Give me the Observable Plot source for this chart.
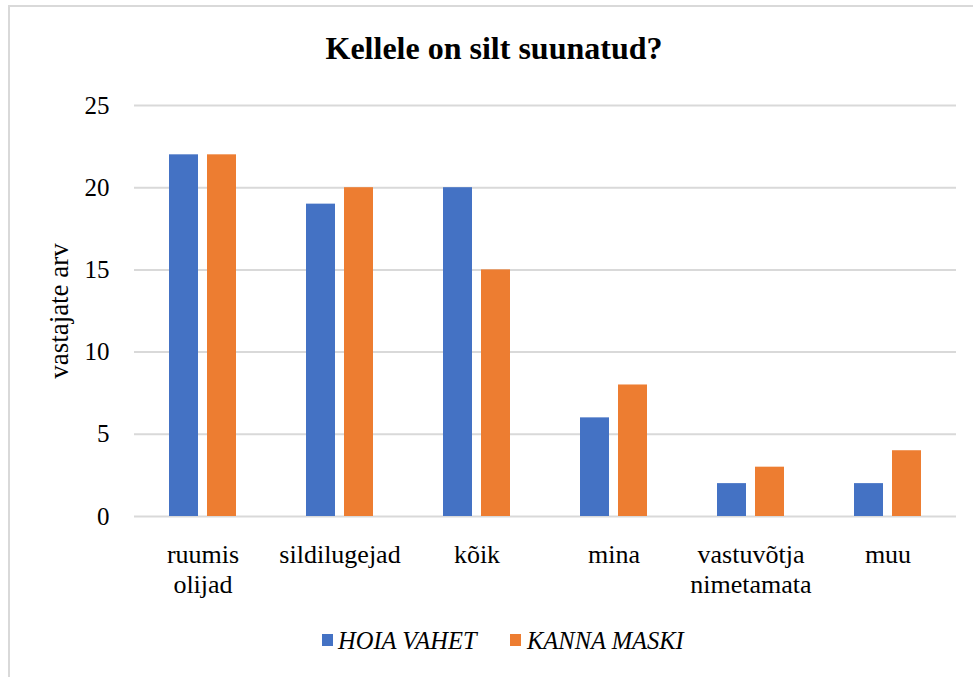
<!DOCTYPE html>
<html>
<head>
<meta charset="utf-8">
<script src="https://cdn.jsdelivr.net/npm/d3@7"></script>
<script src="https://cdn.jsdelivr.net/npm/@observablehq/plot@0.6"></script>
<style>
  html, body { margin: 0; padding: 0; background: #fff; }
  #wrap { position: relative; width: 973px; height: 677px; overflow: hidden; background: #fff;
          font-family: "Liberation Serif", "Times New Roman", Tinos, "DejaVu Serif", serif; color: #000; }
  #frame { position: absolute; left: 8px; top: 5px; width: 980px; height: 700px;
           border-top: 2px solid #d9d9d9; border-left: 2px solid #d9d9d9; }
  #title { position: absolute; left: 0; width: 988px; top: 30px; text-align: center;
           font-size: 32px; font-weight: bold; line-height: 36px; }
  #ylabel { position: absolute; left: 59px; top: 311px; font-size: 27px; white-space: nowrap;
            transform: translate(-50%, -50%) rotate(-90deg); line-height: 30px; }
  #chart { position: absolute; left: 0; top: 0; }
  #chart svg, #chart svg text { font-family: "Liberation Serif", "Times New Roman", Tinos, "DejaVu Serif", serif !important; }
  .leg { position: absolute; top: 628px; font-size: 24.5px; font-style: italic; line-height: 26px; white-space: nowrap; }
  .sw { position: absolute; width: 11px; height: 12px; top: 634px; }
</style>
</head>
<body>
<div id="wrap">
  <div id="frame"></div>
  <div id="chart"></div>
  <div id="title"></div>
  <div id="ylabel"></div>
  <div id="legend"></div>
</div>
<script>
const title = "Kellele on silt suunatud?";
const yLabel = "vastajate arv";
const categories = ["ruumis\nolijad", "sildilugejad", "kõik", "mina", "vastuvõtja\nnimetamata", "muu"];
const series = ["HOIA VAHET", "KANNA MASKI"];
const hoiaVahet = [22, 19, 20, 6, 2, 2];
const kannaMaski = [22, 20, 15, 8, 3, 4];
const yTicks = [0, 5, 10, 15, 20, 25];
const colors = ["#4472C4", "#ED7D31"];

const data = [];
categories.forEach((c, i) => {
  data.push({cat: c, series: series[0], value: hoiaVahet[i]});
  data.push({cat: c, series: series[1], value: kannaMaski[i]});
});

const serif = '"Liberation Serif", "Times New Roman", Tinos, "DejaVu Serif", serif';

const chart = Plot.plot({
  width: 973,
  height: 620,
  marginTop: 105,
  marginBottom: 104,
  marginLeft: 133,
  marginRight: 16,
  style: {fontFamily: serif, color: "#000", background: "transparent"},
  fx: {domain: categories, padding: 0, label: null},
  x: {domain: series, paddingInner: 0.231, paddingOuter: 0.876, axis: null},
  y: {domain: [0, 25], ticks: yTicks, label: null},
  color: {domain: series, range: colors},
  marks: [
    Plot.gridY(yTicks, {stroke: "#d9d9d9", strokeOpacity: 1, strokeWidth: 2, facet: false}),
    Plot.axisY(yTicks, {tickSize: 0, tickPadding: 25, fontSize: 25, fontFamily: serif, label: null, anchor: "left"}),
    Plot.axisFx({tickSize: 0, tickPadding: 25, fontSize: 26, fontFamily: serif, lineHeight: 1.15, label: null, anchor: "bottom"}),
    Plot.barY(data, {fx: "cat", x: "series", y: "value", fill: "series"})
  ]
});
document.getElementById("chart").appendChild(chart);

document.getElementById("title").textContent = title;
document.getElementById("ylabel").textContent = yLabel;

const legendPos = [{sw: 322, tx: 338}, {sw: 510, tx: 527}];
const legend = document.getElementById("legend");
series.forEach((s, i) => {
  const sw = document.createElement("div");
  sw.className = "sw";
  sw.style.left = legendPos[i].sw + "px";
  sw.style.background = colors[i];
  legend.appendChild(sw);
  const t = document.createElement("div");
  t.className = "leg";
  t.style.left = legendPos[i].tx + "px";
  t.textContent = s;
  legend.appendChild(t);
});
</script>
</body>
</html>
